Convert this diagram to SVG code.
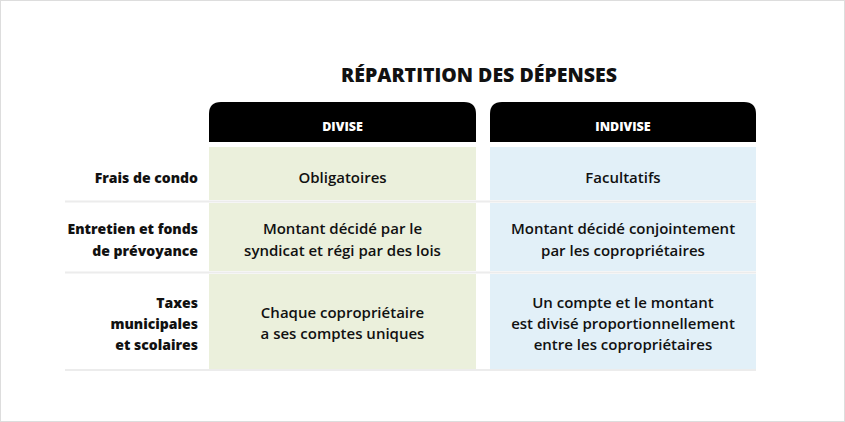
<svg xmlns="http://www.w3.org/2000/svg" width="845" height="422" viewBox="0 0 845 422">
<style>
text{font-family:"Open Sans","Liberation Sans",sans-serif;font-weight:600;font-size:15px;fill:#111}
.c{text-anchor:middle}.r{text-anchor:end;font-weight:800;font-size:14px}
.h{fill:#fff;font-size:12.5px;text-anchor:middle;font-weight:800}
.t{font-size:19.5px;text-anchor:middle;font-weight:800}
.g{fill:#EBF0DC}.b{fill:#E2F0F8}
.sep{stroke:#ECECEC;stroke-width:2}
</style>
<rect x="0.5" y="0.5" width="844" height="421" fill="#fff" stroke="#DDD"/>
<text class="t" x="479" y="82">RÉPARTITION DES DÉPENSES</text>
<g id="head-divise"><path d="M209 142V114Q209 102 221 102H464Q476 102 476 114V142Z" fill="#000"/><text class="h" x="342.5" y="131">DIVISE</text></g>
<g id="head-indivise"><path d="M490 142V114Q490 102 502 102H744Q756 102 756 114V142Z" fill="#000"/><text class="h" x="623" y="131">INDIVISE</text></g>
<g id="cells">
<rect class="g" x="209" y="147" width="267" height="53"/>
<rect class="g" x="209" y="203" width="267" height="68"/>
<rect class="g" x="209" y="274" width="267" height="95"/>
<rect class="b" x="490" y="147" width="266" height="53"/>
<rect class="b" x="490" y="203" width="266" height="68"/>
<rect class="b" x="490" y="274" width="266" height="95"/>
</g>
<g id="lines">
<line class="sep" x1="65" y1="201.5" x2="756" y2="201.5"/>
<line class="sep" x1="65" y1="272.5" x2="756" y2="272.5"/>
<line class="sep" x1="65" y1="370" x2="756" y2="370"/>
</g>
<g id="row1"><text class="r" x="198" y="183">Frais de condo</text><text class="c" x="342.5" y="183">Obligatoires</text><text class="c" x="623" y="183">Facultatifs</text></g>
<g id="row2"><text class="r" x="198" y="234">Entretien et fonds</text><text class="r" x="198" y="256">de prévoyance</text>
<text class="c" x="342.5" y="234">Montant décidé par le</text><text class="c" x="342.5" y="256">syndicat et régi par des lois</text>
<text class="c" x="623" y="234">Montant décidé conjointement</text><text class="c" x="623" y="256">par les copropriétaires</text></g>
<g id="row3"><text class="r" x="198" y="308">Taxes</text><text class="r" x="198" y="329">municipales</text><text class="r" x="198" y="350">et scolaires</text>
<text class="c" x="342.5" y="318">Chaque copropriétaire</text><text class="c" x="342.5" y="339">a ses comptes uniques</text>
<text class="c" x="623" y="308">Un compte et le montant</text><text class="c" x="623" y="329">est divisé proportionnellement</text><text class="c" x="623" y="350">entre les copropriétaires</text></g>
</svg>
